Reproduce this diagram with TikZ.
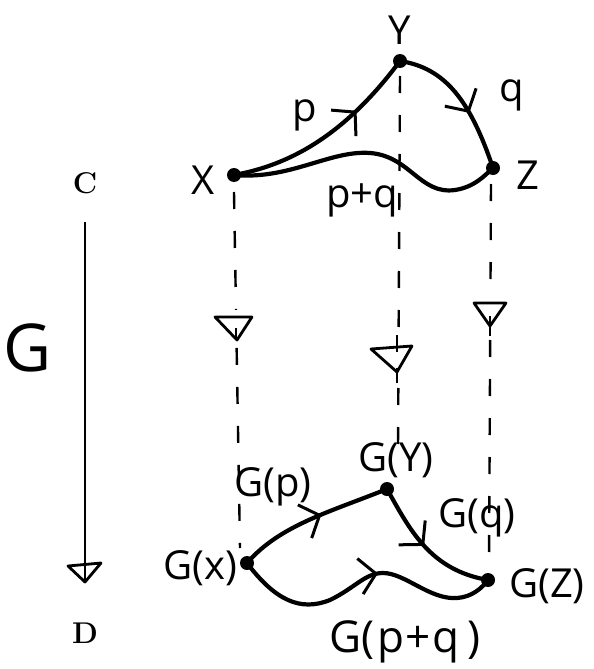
\documentclass[tikz,border=0pt]{standalone}
\usepackage{fontspec}
\newfontfamily\handfont{Open Sans}
\usetikzlibrary{arrows.meta,decorations.markings}
\begin{document}
\begin{tikzpicture}[x=1pt,y=-1pt,
  dot/.style={circle,fill=black,inner sep=0pt,minimum size=14pt},
  lbl/.style={font=\handfont\fontsize{40}{44}\selectfont,inner sep=1pt},
  obj/.style={font=\bfseries\fontsize{30}{34}\selectfont},
  curve/.style={line width=4.2pt,line cap=round},
  midarrow/.style={postaction={decorate,decoration={markings,
     mark=at position #1 with {\arrow[line width=3pt]{Straight Barb[length=16pt,width=36pt]}}}}},
  guide/.style={line width=2.4pt,dash pattern=on 17pt off 22pt},
  tri/.style={line width=2.8pt,line join=round}
]
\useasboundingbox (0,0) rectangle (594,669);
% top category
\node[dot] (X) at (234,175) {};
\node[dot] (Y) at (400,61) {};
\node[dot] (Z) at (493,168) {};
\node[lbl] (Xl) at (203,180) {X};
\node[lbl] (Yl) at (400,30) {Y};
\node[lbl] (Zl) at (528,175) {Z};
\node[lbl] (pl) at (305,115) {p};
\node[lbl] (ql) at (512,95) {q};
\node[lbl] (pql) at (362,200) {p+q};
\draw[curve,midarrow=0.68] (X.center) .. controls (290,165) and (345,135) .. (Y.center);
\draw[curve,midarrow=0.6] (Y.center) .. controls (445,68) and (470,100) .. (Z.center);
\draw[curve] (X.center) .. controls (290,180) and (330,150) .. (370,153)
   .. controls (410,156) and (420,195) .. (455,190)
   .. controls (475,187) and (485,175) .. (Z.center);
% bottom category
\node[dot] (GX) at (247,563) {};
\node[dot] (GY) at (387,489) {};
\node[dot] (GZ) at (488,580) {};
\node[lbl] (GXl) at (200,568) {G(x)};
\node[lbl] (GYl) at (396,460) {G(Y)};
\node[lbl] (GZl) at (547,586) {G(Z)};
\node[lbl] (Gpl) at (273,487) {G(p)};
\node[lbl] (Gql) at (477,518) {G(q)};
\node[lbl,font=\handfont\fontsize{44}{48}\selectfont] (Gpql) at (405,642) {G(\hspace{3pt}p\hspace{1pt}+\hspace{1pt}q\hspace{8pt})};
\draw[curve,midarrow=0.56] (GX.center) .. controls (280,525) and (330,512) .. (GY.center);
\draw[curve,midarrow=0.48] (GY.center) .. controls (410,530) and (430,570) .. (GZ.center);
\draw[curve,midarrow=0.56] (GX.center) .. controls (275,600) and (300,612) .. (330,600)
   .. controls (355,588) and (365,573) .. (383,573)
   .. controls (405,573) and (430,600) .. (457,598)
   .. controls (472,597) and (482,588) .. (GZ.center);
% functor
\node[obj] (C) at (85,183) {C};
\node[obj] (D) at (85,633) {D};
\node[font=\handfont\fontsize{66}{70}\selectfont] (G) at (28,348) {G};
\coordinate (Cs) at (85,222);
\coordinate (De) at (85,582);
\draw[line width=1.8pt] (Cs) -- (De);
\draw[tri] (68,566) -- (101,563) -- (De) -- cycle;
% dashed guides
\coordinate (gx1) at (234,192); \coordinate (gx2) at (240,548);
\coordinate (gy1) at (400,76);  \coordinate (gy2) at (398,448);
\coordinate (gz1) at (491,184); \coordinate (gz2) at (489,566);
\draw[guide] (gx1) -- (gx2);
\draw[guide] (gy1) -- (gy2);
\draw[guide] (gz1) -- (gz2);
\fill[white] (212,310) rectangle (256,345);
\fill[white] (368,340) rectangle (414,378);
\fill[white] (472,295) rectangle (508,330);
\draw[tri] (215,317) -- (252,317) -- (237,340) -- cycle;
\draw[tri] (371,349) -- (412,346) -- (397,372) -- cycle;
\draw[tri] (474,303) -- (506,303) -- (490,326) -- cycle;
\draw[line width=2.4pt] (236,328) -- (236,338) (397,335) -- (397,352) (397,368) -- (397,383) (490,316) -- (490,336);
\end{tikzpicture}
\end{document}
